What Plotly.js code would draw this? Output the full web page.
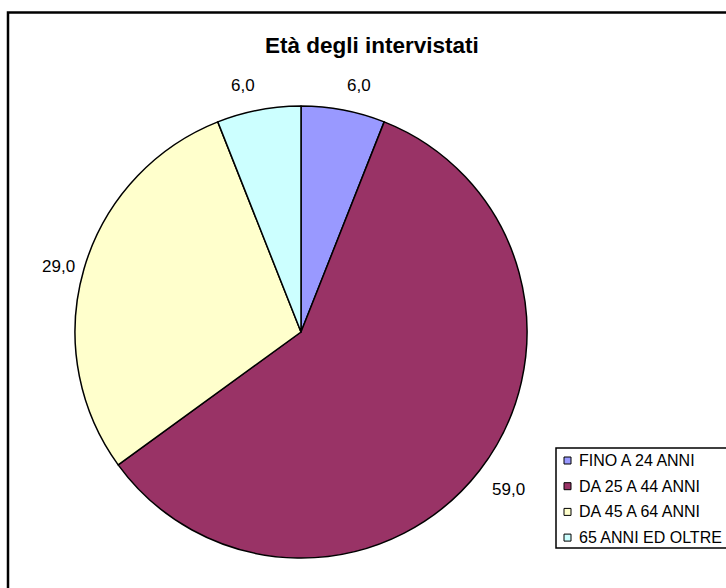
<!DOCTYPE html>
<html>
<head>
<meta charset="utf-8">
<script src="https://cdn.plot.ly/plotly-3.0.1.min.js"></script>
<style>html,body{margin:0;padding:0;background:#fff;}#chart{width:726px;height:588px;}</style>
</head>
<body>
<div id="chart"></div>
<script>
const categories = ["FINO A 24 ANNI", "DA 25 A 44 ANNI", "DA 45 A 64 ANNI", "65 ANNI ED OLTRE"];
const values = [6.0, 59.0, 29.0, 6.0];
const colors = ["#9999FF", "#993366", "#FFFFCC", "#CCFFFF"];
const chartTitle = "Età degli intervistati";

const W = 726, H = 588;
const cx = 301, cy = 332, r = 226;
const FONT = "Liberation Sans, Arial, sans-serif";
const px = x => x / W;          // pixel -> paper x
const py = y => 1 - y / H;      // pixel -> paper y

const trace = {
  type: "pie",
  labels: categories,
  values: values,
  sort: false,
  direction: "clockwise",
  rotation: 0,
  marker: { colors: colors, line: { color: "#000000", width: 1.5 } },
  textinfo: "none",
  hoverinfo: "label+value",
  showlegend: false,
  domain: { x: [px(cx - r), px(cx + r)], y: [py(cy + r), py(cy - r)] }
};

const annotations = [];
const shapes = [];

// title
annotations.push({
  text: "<b>" + chartTitle + "</b>", xref: "paper", yref: "paper",
  x: px(372), y: py(45), xanchor: "center", yanchor: "middle", showarrow: false,
  font: { family: FONT, size: 22.5, color: "#000" }
});

// outside data labels, placed along each slice's mid-angle
const total = values.reduce((a, b) => a + b, 0);
let cum = 0;
values.forEach((v, i) => {
  const mid = (cum + v / 2) / total * 2 * Math.PI;
  cum += v;
  const s = Math.sin(mid), c = Math.cos(mid);
  const middle = Math.abs(c) < 0.5;
  const d = middle ? 234 : 240;
  const ax = cx + d * s, ay = cy - d * c;
  annotations.push({
    text: v.toFixed(1).replace(".", ","), xref: "paper", yref: "paper",
    x: px(ax), y: py(ay),
    xanchor: s >= 0 ? "left" : "right",
    yanchor: middle ? "middle" : (c > 0 ? "bottom" : "top"),
    showarrow: false, borderpad: 0,
    font: { family: FONT, size: 17, color: "#000" }
  });
});

// outer frame
shapes.push({
  type: "rect", xref: "paper", yref: "paper",
  x0: px(8), x1: 1.05, y0: -0.05, y1: py(12.5),
  line: { color: "#000", width: 2.5 }, fillcolor: "rgba(0,0,0,0)", layer: "below"
});

// legend box
const legTop = 448, legStep = 25.7, legLeft = 556;
shapes.push({
  type: "rect", xref: "paper", yref: "paper",
  x0: px(legLeft), x1: 1.05, y0: py(legTop + 100), y1: py(legTop),
  line: { color: "#000", width: 1.5 }, fillcolor: "#fff", layer: "above"
});
categories.forEach((cat, i) => {
  const yc = legTop + 12.5 + i * legStep;
  shapes.push({
    type: "rect", xref: "paper", yref: "paper",
    x0: px(564), x1: px(571), y0: py(yc + 3.5), y1: py(yc - 3.5),
    line: { color: "#000", width: 1 }, fillcolor: colors[i], layer: "above"
  });
  annotations.push({
    text: cat, xref: "paper", yref: "paper",
    x: px(578), y: py(yc), xanchor: "left", yanchor: "middle", showarrow: false,
    borderpad: 0, font: { family: FONT, size: 16, color: "#000" }
  });
});

const layout = {
  width: W, height: H,
  margin: { l: 0, r: 0, t: 0, b: 0 },
  paper_bgcolor: "#ffffff",
  font: { family: FONT, color: "#000" },
  showlegend: false,
  annotations: annotations,
  shapes: shapes
};

Plotly.newPlot("chart", [trace], layout, { displayModeBar: false, staticPlot: true });
</script>
</body>
</html>
